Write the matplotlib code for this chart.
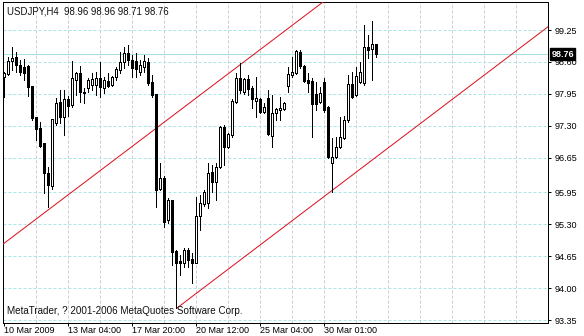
import matplotlib
matplotlib.use("Agg")
import matplotlib.pyplot as plt
import matplotlib.transforms as mtransforms

plt.rcParams['font.family'] = ['Liberation Sans', 'DejaVu Sans']

# ---- data ----
header = "USDJPY,H4  98.96 98.96 98.71 98.76"
copyright_text = "MetaTrader, ? 2001-2006 MetaQuotes Software Corp."

opens = [98.29, 98.36, 98.62, 98.70, 98.54, 98.50, 98.52, 98.11, 97.48, 97.26,
         96.95, 96.34, 96.08, 97.36, 97.78, 97.48, 97.85, 97.72, 98.23, 98.37,
         97.99, 98.07, 98.13, 98.13, 98.27, 98.07, 98.21, 98.13, 98.29, 98.44,
         98.60, 98.78, 98.64, 98.62, 98.40, 98.50, 98.60, 98.19, 97.95, 96.02,
         96.24, 95.38, 95.79, 94.75, 94.55, 94.51, 94.77, 94.59, 94.51, 95.47,
         95.71, 95.73, 96.36, 96.16, 96.46, 97.28, 96.87, 97.11, 97.79, 98.27,
         97.99, 98.25, 98.07, 97.81, 97.85, 97.58, 97.87, 97.09, 97.56, 97.62,
         97.64, 98.11, 98.33, 98.38, 98.80, 98.52, 98.23, 98.21, 97.95, 97.79,
         98.19, 97.68, 96.54, 96.67, 96.87, 97.05, 97.42, 98.15, 97.93, 98.19,
         98.17, 98.90, 98.86, 98.96]
highs = [98.40, 98.70, 98.90, 98.80, 98.64, 98.66, 98.54, 98.11, 97.48, 97.38,
         96.95, 96.46, 97.44, 97.87, 98.03, 98.03, 97.91, 98.62, 98.40, 98.52,
         98.07, 98.27, 98.37, 98.40, 98.60, 98.29, 98.37, 98.31, 98.50, 98.80,
         98.90, 98.94, 98.74, 98.78, 98.64, 98.74, 98.68, 98.33, 97.95, 96.54,
         96.28, 95.83, 95.79, 94.77, 94.67, 94.82, 94.82, 94.71, 95.85, 95.89,
         95.99, 96.54, 96.50, 96.54, 97.30, 97.32, 97.15, 97.85, 98.37, 98.58,
         98.27, 98.33, 98.11, 98.29, 97.87, 97.77, 98.03, 97.93, 97.66, 97.89,
         97.79, 98.50, 98.70, 98.84, 98.84, 98.54, 98.38, 98.27, 98.19, 98.09,
         98.27, 97.70, 97.05, 97.07, 97.48, 97.50, 98.33, 98.40, 98.50, 98.60,
         99.35, 99.15, 99.43, 98.96]
lows = [97.89, 98.33, 98.44, 98.40, 98.33, 98.23, 97.91, 97.42, 97.01, 96.87,
        95.93, 95.65, 96.02, 97.32, 97.36, 97.11, 97.50, 97.68, 97.93, 97.78,
        97.76, 97.99, 98.03, 97.93, 97.89, 97.97, 98.09, 98.11, 98.23, 98.37,
        98.48, 98.54, 98.29, 98.29, 98.33, 98.40, 98.13, 97.89, 95.65, 95.99,
        95.24, 95.32, 94.47, 93.59, 94.27, 94.43, 94.43, 94.10, 94.51, 95.18,
        95.67, 95.63, 95.95, 95.79, 96.44, 96.50, 96.85, 97.07, 97.76, 97.97,
        97.95, 97.93, 97.66, 97.48, 97.56, 97.56, 97.11, 96.87, 97.42, 97.42,
        97.62, 97.99, 98.29, 98.36, 98.48, 98.19, 97.99, 97.07, 97.62, 97.76,
        97.58, 96.65, 95.95, 96.65, 96.85, 97.03, 97.38, 97.87, 97.91, 98.17,
        98.13, 98.68, 98.23, 98.71]
closes = [98.38, 98.62, 98.68, 98.54, 98.40, 98.38, 98.09, 97.46, 97.24, 96.89,
          96.34, 96.10, 97.44, 97.76, 97.48, 97.85, 97.70, 98.27, 98.37, 97.99,
          97.97, 98.23, 98.25, 98.27, 98.09, 98.23, 98.11, 98.29, 98.46, 98.60,
          98.78, 98.64, 98.48, 98.46, 98.54, 98.62, 98.17, 97.93, 95.99, 96.24,
          95.34, 95.79, 94.73, 94.51, 94.51, 94.77, 94.57, 94.51, 95.47, 95.73,
          95.95, 96.34, 96.16, 96.46, 97.28, 96.87, 97.13, 97.81, 98.27, 98.03,
          98.25, 98.05, 97.85, 97.87, 97.58, 97.68, 97.13, 97.56, 97.64, 97.66,
          97.77, 98.36, 98.40, 98.82, 98.52, 98.21, 98.17, 97.74, 97.74, 97.97,
          97.62, 96.67, 96.67, 96.87, 97.07, 97.42, 98.15, 97.89, 98.31, 98.40,
          98.90, 98.84, 98.96, 98.76]

x_tick_bars = [0, 16, 32, 48, 64, 80]
x_tick_labels = ["10 Mar 2009", "13 Mar 04:00", "17 Mar 20:00",
                 "20 Mar 12:00", "25 Mar 04:00", "30 Mar 01:00"]
y_tick_values = [99.25, 98.60, 97.95, 97.30, 96.65, 95.95, 95.30, 94.65, 94.00, 93.35]
y_tick_labels = ["99.25", "98.60", "97.95", "97.30", "96.65", "95.95",
                 "95.30", "94.65", "94.00", "93.35"]
last_price = 98.76
last_price_label = "98.76"

upper_channel_x = [-1, 82]
upper_channel_y = [94.84, 99.95]
lower_channel_x = [43.3, 137]
lower_channel_y = [93.59, 99.37]

# ---- figure ----
W, H = 584, 336
fig = plt.figure(figsize=(W / 100, H / 100), dpi=100)
fig.patch.set_facecolor('white')
ax = fig.add_axes([3 / W, 13 / H, 545 / W, 321 / H])
ax.set_facecolor('white')
ax.set_xlim(-0.125, 136.125)
ax.set_ylim(93.289, 99.82)

px = 0.72  # one pixel in points

# grid
for yv in y_tick_values:
    ax.axhline(yv, color='#ade6ea', lw=px, linestyle=(0, (3, 2)), zorder=0)
for xv in range(8, 137, 8):
    ax.axvline(xv, color='#cfcfcf', lw=px, linestyle=(0, (3, 2)), zorder=0)

# bid line
ax.axhline(last_price, color='#a6dfe3', lw=px, zorder=0.5)

# channel
ax.plot(upper_channel_x, upper_channel_y, color='#dd1020', lw=px, zorder=3)
ax.plot(lower_channel_x, lower_channel_y, color='#dd1020', lw=px, zorder=3)

# candles
for i in range(len(opens)):
    o, h, l, c = opens[i], highs[i], lows[i], closes[i]
    ax.vlines(i, l, h, color='black', lw=px, zorder=4, antialiased=False)
    bottom = min(o, c)
    height = max(abs(c - o), 0.004)
    fc = 'white' if c >= o else 'black'
    ax.bar(i, height, bottom=bottom, width=0.5, facecolor=fc,
           edgecolor='black', linewidth=px, zorder=5, antialiased=False)

# spines
for s in ax.spines.values():
    s.set_color('black')
    s.set_linewidth(px)

# ticks
ax.yaxis.tick_right()
ax.set_yticks(y_tick_values)
ax.set_yticklabels(y_tick_labels)
ax.set_xticks(x_tick_bars)
ax.set_xticklabels(x_tick_labels, ha='left')
ax.tick_params(axis='y', direction='out', length=2.5, width=px, pad=2.5,
               labelsize=6.5, colors='black')
ax.tick_params(axis='x', direction='out', length=2.0, width=px, pad=0.0,
               labelsize=6.5, colors='black')

# last price box
trans = mtransforms.blended_transform_factory(ax.transAxes, ax.transData)
ax.text(1.006, last_price, last_price_label, transform=trans, ha='left', va='center',
        fontsize=6.5, color='white', fontweight='bold', clip_on=False, zorder=10,
        bbox=dict(boxstyle='square,pad=0.15', facecolor='black', edgecolor='black'))

# texts
fig.text(7 / W, 1 - 11 / H, header, ha='left', va='center', fontsize=6.9, color='#101010')
fig.text(7 / W, 1 - 311 / H, copyright_text, ha='left', va='center', fontsize=7.1,
         color='#101010', zorder=10)

fig.savefig("out.png", dpi=100, facecolor='white')
